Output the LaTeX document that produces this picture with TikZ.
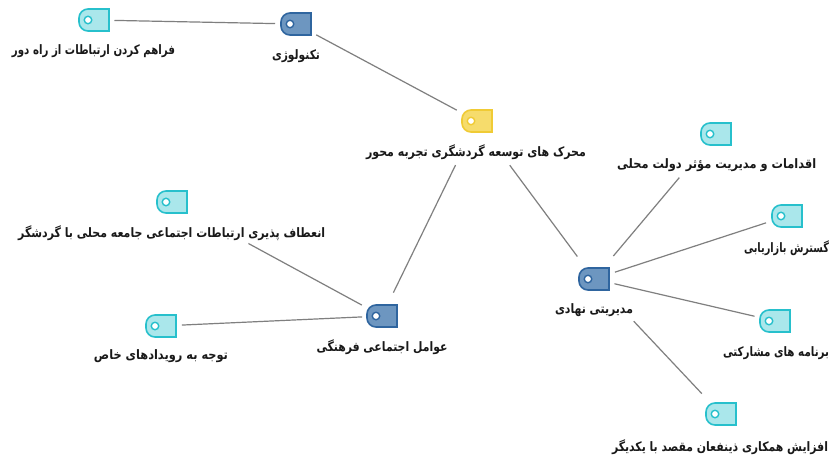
\documentclass[tikz,border=0pt]{standalone}
\usepackage{fontspec}
\usepackage{graphicx}
\newfontfamily\arabicfont[Script=Arabic]{DejaVu Sans}
\TeXXeTstate=1
\tikzset{
  x=1pt,y=-1pt,
  tagbox/.style={minimum width=30pt,minimum height=22pt,inner sep=0pt,outer sep=0pt},
  tagyellow/.style={draw=tagyellowline,fill=tagyellowfill},
  tagblue/.style={draw=tagblueline,fill=tagbluefill},
  tagcyan/.style={draw=tagcyanline,fill=tagcyanfill},
  taglabel/.style={inner sep=0pt,yshift=-0.5pt,font=\arabicfont\fontsize{13pt}{15pt}\selectfont\bfseries,text=black!90},
  link/.style={draw=linkgray,line width=1.2pt},
}
\definecolor{tagyellowline}{HTML}{F0CB35}
\definecolor{tagyellowfill}{HTML}{F6DC6C}
\definecolor{tagblueline}{HTML}{2F659F}
\definecolor{tagbluefill}{HTML}{6D96C0}
\definecolor{tagcyanline}{HTML}{27C0CC}
\definecolor{tagcyanfill}{HTML}{AAE7EB}
\definecolor{linkgray}{HTML}{7F7F7F}
\newcommand{\tagmark}[4]{%
  \node[tagbox] (#1) at (#2,#3) {};
  \draw[#4,line width=1.6pt] (#1.north east) [rounded corners=9pt] -- (#1.north west) -- (#1.south west) [sharp corners] -- (#1.south east) -- cycle;
  \node[circle,#4,fill=white,line width=1.4pt,minimum size=7.5pt,inner sep=0pt] (#1hole) at ([xshift=-6pt]#1.center) {};
}
\newcommand{\fa}[2]{\resizebox{#1pt}{\height}{#2}}
\begin{document}
\begin{tikzpicture}
\useasboundingbox (0,0) rectangle (830,456);
\fill[white] (0,0) rectangle (830,456);
\tagmark{central}{477}{121}{tagyellow}
\tagmark{tech}{296}{24}{tagblue}
\tagmark{remote}{94}{20}{tagcyan}
\tagmark{culture}{382}{316}{tagblue}
\tagmark{response}{172}{202}{tagcyan}
\tagmark{events}{161}{326}{tagcyan}
\tagmark{mgmt}{594}{279}{tagblue}
\tagmark{actions}{716}{134}{tagcyan}
\tagmark{market}{787}{216}{tagcyan}
\tagmark{programs}{775}{321}{tagcyan}
\tagmark{coop}{721}{414}{tagcyan}
\node[taglabel] (lcentral) at (476,152) {\fa{220}{\beginR محرک های توسعه گردشگری تجربه محور\endR}};
\node[taglabel] (ltech) at (296,56) {\fa{48}{\beginR تکنولوژی\endR}};
\node[taglabel] (lremote) at (93.5,51) {\fa{163}{\beginR فراهم کردن ارتباطات از راه دور\endR}};
\node[taglabel] (lresponse) at (171.7,233) {\fa{307}{\beginR انعطاف پذیری ارتباطات اجتماعی جامعه محلی با گردشگر\endR}};
\node[taglabel] (levents) at (161,356) {\fa{134}{\beginR توجه به رویدادهای خاص\endR}};
\node[taglabel] (lculture) at (382,347) {\fa{131}{\beginR عوامل اجتماعی فرهنگی\endR}};
\node[taglabel] (lactions) at (716.7,165) {\fa{199}{\beginR اقدامات و مدیریت مؤثر دولت محلی\endR}};
\node[taglabel] (lmarket) at (786.5,248) {\fa{85}{\beginR گسترش بازاریابی\endR}};
\node[taglabel] (lmgmt) at (594,310) {\fa{78}{\beginR مدیریتی نهادی\endR}};
\node[taglabel] (lprograms) at (776,353) {\fa{106}{\beginR برنامه های مشارکتی\endR}};
\node[taglabel] (lcoop) at (720,447) {\fa{216}{\beginR افزایش همکاری ذینفعان مقصد با یکدیگر\endR}};
\draw[link,shorten <=20.5pt,shorten >=21pt] (remote.center) -- (tech.center);
\draw[link,shorten <=23pt,shorten >=23pt] (tech.center) -- (central.center);
\draw[link,shorten <=26pt,shorten >=49pt] (culture.center) -- (central.center);
\draw[link,shorten <=55pt,shorten >=28pt] (central.center) -- (mgmt.center);
\draw[link,shorten <=87pt,shorten >=23pt] (response.center) -- (culture.center);
\draw[link,shorten <=21pt,shorten >=20pt] (events.center) -- (culture.center);
\draw[link,shorten <=30pt,shorten >=57pt] (mgmt.center) -- (actions.center);
\draw[link,shorten <=22pt,shorten >=22pt] (mgmt.center) -- (market.center);
\draw[link,shorten <=21pt,shorten >=21pt] (mgmt.center) -- (programs.center);
\draw[link,shorten <=58pt,shorten >=28pt] (mgmt.center) -- (coop.center);
\end{tikzpicture}
\end{document}
